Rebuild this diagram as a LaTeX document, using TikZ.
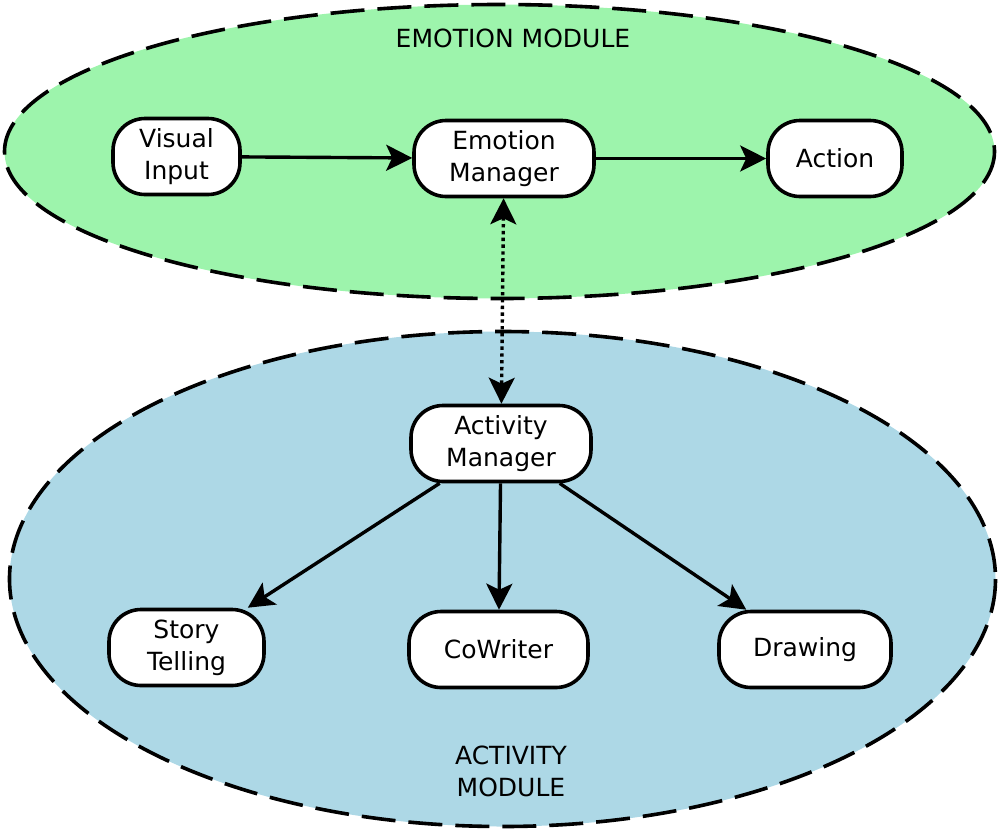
\documentclass[tikz,border=0pt]{standalone}
\usepackage{fontspec}
\setmainfont{DejaVu Sans}
\usetikzlibrary{arrows.meta,positioning}
\definecolor{emogreen}{RGB}{157,244,172}
\definecolor{actblue}{RGB}{173,216,230}

\begin{document}
\begin{tikzpicture}
  [x=0.5pt,y=-0.5pt,>={Stealth[length=13pt,width=13pt,inset=3pt]},%坐标按像素换算,箭头样式
   font=\fontsize{12.5}{16}\selectfont,
   module/.style={draw=black,line width=1.8pt,dash pattern=on 17pt off 6.5pt},%模块的虚线椭圆
   box/.style={rectangle,draw=black,line width=1.8pt,fill=white,rounded corners=16pt,
               minimum height=38pt,align=center,inner sep=2pt},%圆角矩形节点
   link/.style={->,line width=1.7pt}]%普通连线

  \useasboundingbox (0,0) rectangle (1000,831);

  % 两个模块的背景椭圆
  \path [module,fill=emogreen] (499.5,151.5) ellipse [x radius=495, y radius=147];
  \path [module,fill=actblue]  (502.5,579)   ellipse [x radius=493, y radius=247.5];

  \node (emolabel) at (513,38)                 {EMOTION MODULE};
  \node (actlabel) [align=center] at (511,771) {ACTIVITY\\MODULE};

  % 情绪模块
  \node [box,minimum width=63.5pt] (vi) at (176.5,156.5) {Visual\\Input};
  \node [box,minimum width=90pt]   (em) at (504,158.5)   {Emotion\\Manager};
  \node [box,minimum width=67pt]   (ac) at (835,158.5)   {Action};

  % 活动模块
  \node [box,minimum width=90pt]   (am) at (501,443.5)   {Activity\\Manager};
  \node [box,minimum width=77.5pt] (st) at (186.5,647.5) {Story\\Telling};
  \node [box,minimum width=89.5pt] (cw) at (498.5,649.5) {CoWriter};
  \node [box,minimum width=86pt]   (dr) at (805,649.5)   {Drawing};

  \draw [link] (vi) -- (em);
  \draw [link] (em) -- (ac);
  \draw [<->,line width=1.7pt,dash pattern=on 1.7pt off 1.7pt] (em) -- (am);%两个管理器之间的双向点线
  \draw [link] (am) -- (st);
  \draw [link] (am) -- (cw);
  \draw [link] (am) -- (dr);

\end{tikzpicture}
\end{document}
